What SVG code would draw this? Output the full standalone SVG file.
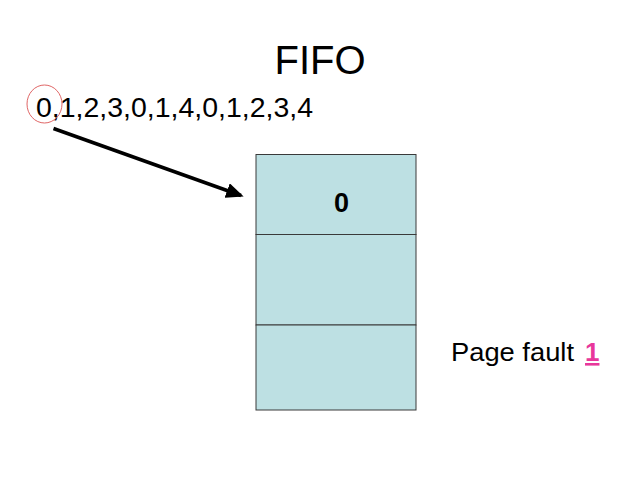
<svg xmlns="http://www.w3.org/2000/svg" width="640" height="480" viewBox="0 0 640 480">
<style>
.t{font-family:"Liberation Sans",Arial,sans-serif;fill:#000}
.cell{fill:#bde0e3;stroke:#3a3a3a;stroke-width:1}
</style>
<defs>
<marker id="ah" markerWidth="5" markerHeight="4.4" refX="4.2" refY="2.2" orient="auto" markerUnits="strokeWidth">
<path d="M0,0 L5,2.2 L0,4.4 Z" fill="#000"/>
</marker>
</defs>
<rect width="640" height="480" fill="#fff"/>
<g id="title"><text class="t" x="320" y="74" font-size="40" text-anchor="middle">FIFO</text></g>
<g id="sequence">
<text class="t" x="36" y="116.8" font-size="27.5" textLength="277" lengthAdjust="spacingAndGlyphs">0,1,2,3,0,1,4,0,1,2,3,4</text>
<ellipse cx="44.5" cy="104" rx="17.5" ry="19" fill="none" stroke="#e06666" stroke-width="1"/>
</g>
<g id="frames">
<rect class="cell" x="256" y="154.5" width="160" height="80"/>
<rect class="cell" x="256" y="234.5" width="160" height="90.5"/>
<rect class="cell" x="256" y="325" width="160" height="85"/>
<text class="t" x="341.5" y="212" font-size="27" font-weight="bold" text-anchor="middle">0</text>
</g>
<g id="connectors">
<line x1="53.5" y1="128.5" x2="241" y2="195.5" stroke="#000" stroke-width="3.5" marker-end="url(#ah)"/>
</g>
<g id="pagefault">
<text class="t" x="451" y="361" font-size="26" textLength="123" lengthAdjust="spacingAndGlyphs">Page fault</text>
<text x="585" y="361" font-size="26" font-weight="bold" font-family="Liberation Sans,Arial,sans-serif" fill="#e8379b" text-decoration="underline">1</text>
</g>
</svg>
